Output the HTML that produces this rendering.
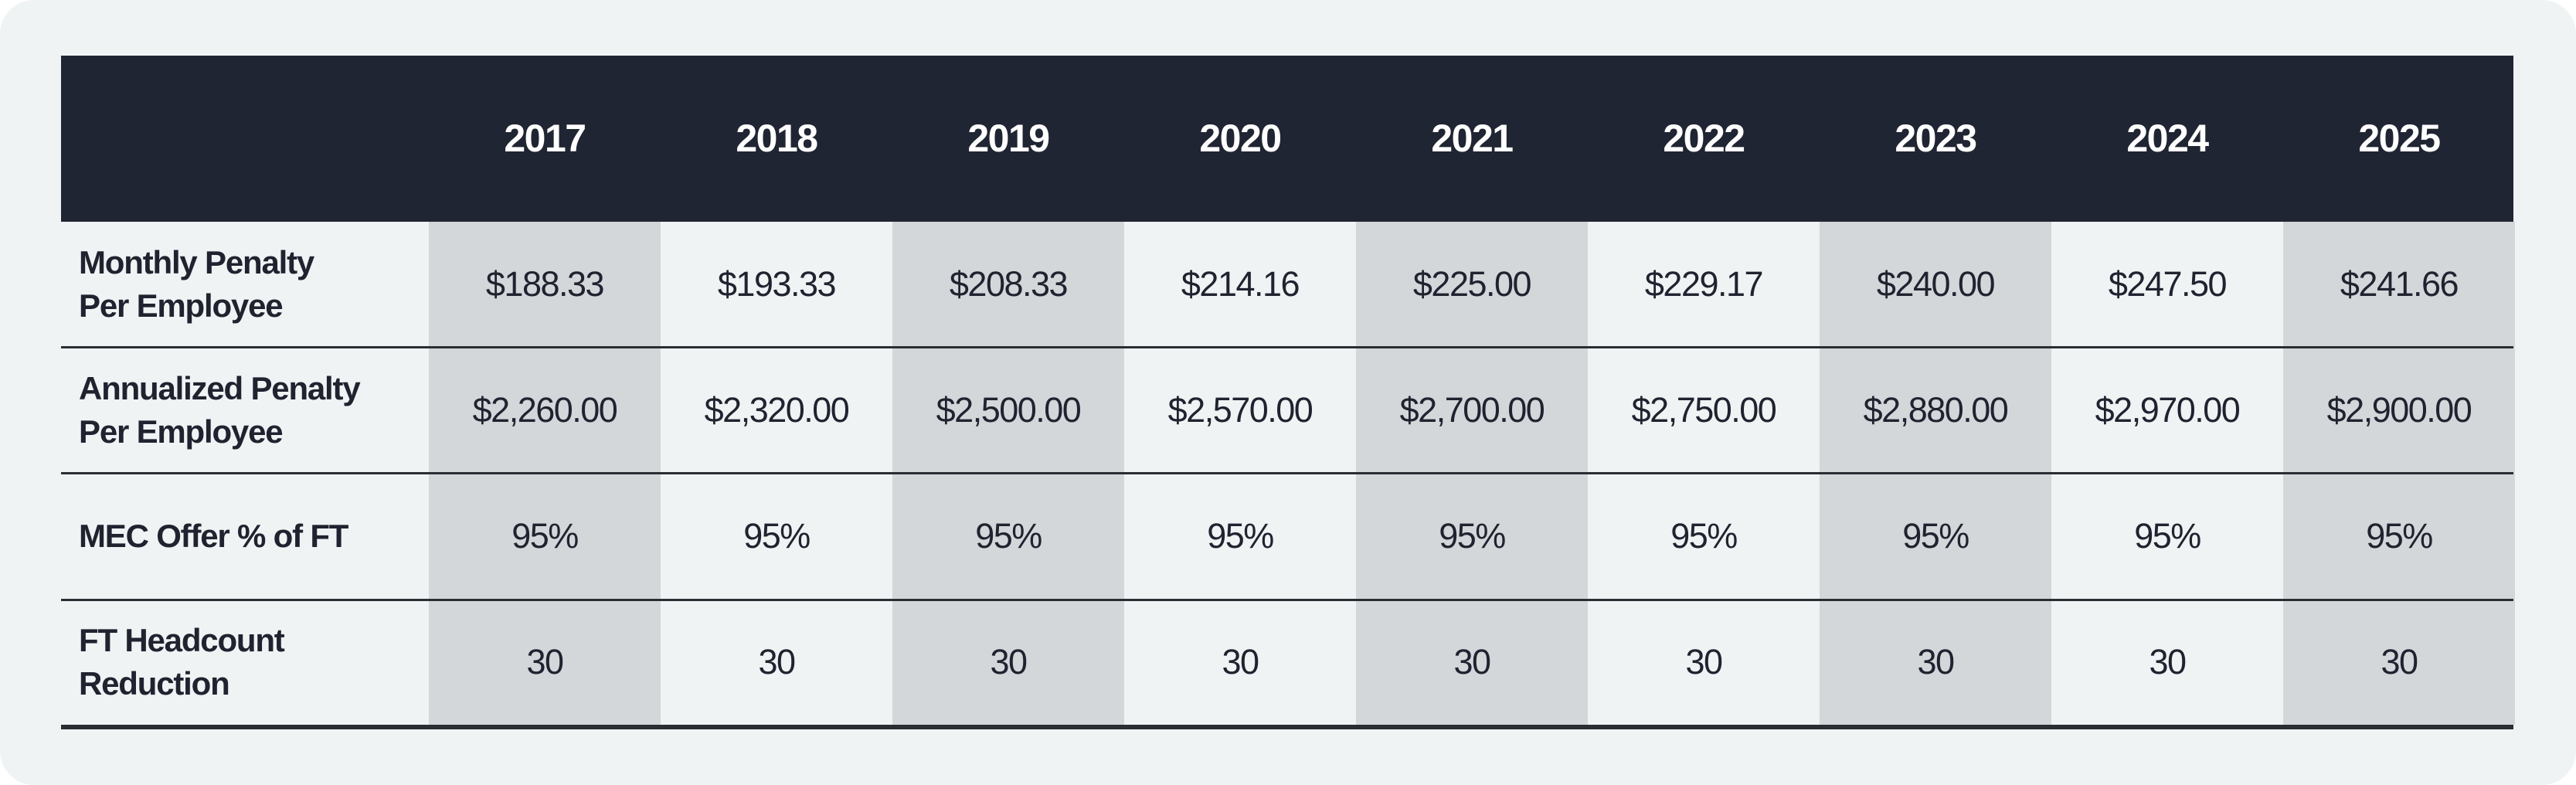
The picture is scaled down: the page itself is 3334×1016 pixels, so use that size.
<!DOCTYPE html>
<html><head><meta charset="utf-8">
<style>
html,body{margin:0;padding:0;background:#ffffff;}
body{width:3334px;height:1016px;position:relative;overflow:hidden;font-family:"Liberation Sans",sans-serif;}
#card{position:absolute;left:0;top:0;width:3334px;height:1016px;background:#eff3f4;border-radius:44px;}
#tbl{position:absolute;left:79px;top:72px;width:3174px;}
.hdr{position:absolute;left:0;top:0;width:3174px;height:215px;background:#202533;}
.yr{position:absolute;top:0;height:215px;line-height:215px;text-align:center;color:#ffffff;font-weight:bold;font-size:50px;letter-spacing:-1.5px;}
.shade{position:absolute;background:#d3d7da;}
.lbl{position:absolute;left:23px;display:flex;align-items:center;font-weight:bold;font-size:42px;line-height:56px;color:#20232f;letter-spacing:-1.2px;}
.val{position:absolute;display:flex;align-items:center;justify-content:center;font-size:45px;color:#20232f;letter-spacing:-1.5px;}
.line{position:absolute;left:0;width:3174px;background:#2b2d33;}
</style></head>
<body>
<div id="card"></div>
<div id="tbl"></div>
<script>
const years = ["2017","2018","2019","2020","2021","2022","2023","2024","2025"];
const rowLabels = [["Monthly Penalty","Per Employee"],["Annualized Penalty","Per Employee"],["MEC Offer % of FT"],["FT Headcount","Reduction"]];
const monthly = ["$188.33","$193.33","$208.33","$214.16","$225.00","$229.17","$240.00","$247.50","$241.66"];
const annual = ["$2,260.00","$2,320.00","$2,500.00","$2,570.00","$2,700.00","$2,750.00","$2,880.00","$2,970.00","$2,900.00"];
const mec = ["95%","95%","95%","95%","95%","95%","95%","95%","95%"];
const headcount = ["30","30","30","30","30","30","30","30","30"];
const rows = [monthly, annual, mec, headcount];

const tbl = document.getElementById('tbl');
const firstW = 476, colW = 300, hdrH = 215;
const rowTops = [215, 377, 540, 704, 866];
function colX(i){ return firstW + i*colW; }

// shaded columns
years.forEach((y,i)=>{
  if(i%2===0){
    const s=document.createElement('div');
    s.className='shade';
    
    
    s.style.left=colX(i)+'px'; s.style.width=colW+'px';
    s.style.top=hdrH+'px'; s.style.height=(rowTops[4]-hdrH)+'px';
    tbl.appendChild(s);
  }
});
const hdr=document.createElement('div');
hdr.className='hdr';


tbl.appendChild(hdr);
years.forEach((y,i)=>{
  const d=document.createElement('div');
  d.className='yr'; d.textContent=y;
  
  
  d.style.left=colX(i)+'px'; d.style.width=colW+'px';
  tbl.appendChild(d);
});
rows.forEach((r,ri)=>{
  const top=rowTops[ri], h=rowTops[ri+1]-top;
  const l=document.createElement('div');
  l.className='lbl';
  
  
  l.style.top=top+'px'; l.style.height=h+'px';
  l.innerHTML=rowLabels[ri].join('<br>');
  tbl.appendChild(l);
  r.forEach((v,i)=>{
    const c=document.createElement('div');
    c.className='val'; c.textContent=v;
    
    
    c.style.left=colX(i)+'px'; c.style.width=colW+'px';
    c.style.top=top+'px'; c.style.height=h+'px';
    tbl.appendChild(c);
  });
  const ln=document.createElement('div');
  ln.className='line';
  
  
  const last = ri===rows.length-1;
  const th = last?6:3;
  ln.style.top=(rowTops[ri+1]-(last?0:1))+'px'; ln.style.height=th+'px';
  tbl.appendChild(ln);
});
</script>
</body></html>
